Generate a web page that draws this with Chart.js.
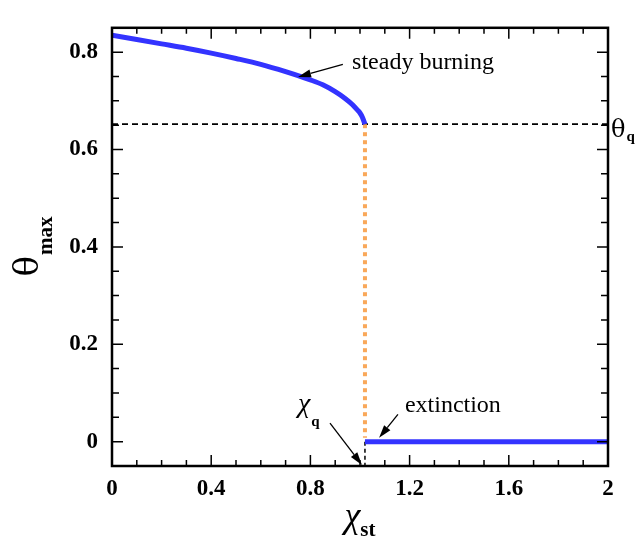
<!DOCTYPE html>
<html>
<head>
<meta charset="utf-8">
<script src="https://cdn.jsdelivr.net/npm/chart.js@4.4.1/dist/chart.umd.min.js"></script>
<style>
  body { margin: 0; background: #fff; }
  canvas { display: block; }
</style>
</head>
<body>
<canvas id="mycanvas" width="641" height="540"></canvas>
<script>
// values
var chiQ = 1.02;        // quenching strain
var thetaQ = 0.652;     // theta at quenching

var burnX = [0, 0.1, 0.2, 0.3, 0.4, 0.5, 0.6, 0.7, 0.8, 0.85, 0.9, 0.94, 0.97, 0.99, 1.0, 1.01, 1.02];
var burnY = [0.835, 0.826, 0.817, 0.808, 0.798, 0.787, 0.775, 0.760, 0.743, 0.733, 0.719, 0.705, 0.692, 0.681, 0.675, 0.666, 0.652];

var extX = [1.02, 2];
var extY = [0, 0];

var xTicks = [0, 0.4, 0.8, 1.2, 1.6, 2];
var yTicks = [0, 0.2, 0.4, 0.6, 0.8];
var xMinorStep = 0.1;
var yMinorStep = 0.05;

function pts(xs, ys) {
    var out = [];
    for (var i in xs) out.push({x: xs[i], y: ys[i]});
    return out;
}

var serif = "'Liberation Serif', 'Times New Roman', serif";
var greek = "'DejaVu Serif', serif";

// frame, inward ticks, annotations and axis titles
var decor = {
    id: 'decor',
    afterDraw: function (chart) {
        var c = chart.ctx, a = chart.chartArea;
        var xs = chart.scales.x, ys = chart.scales.y;
        c.save();
        c.strokeStyle = '#000';
        c.fillStyle = '#000';

        // ticks
        c.lineWidth = 1.5;
        c.beginPath();
        for (var v = 0; v <= 2.0001; v += xMinorStep) {
            var px = xs.getPixelForValue(v);
            var major = Math.abs(v / 0.4 - Math.round(v / 0.4)) < 1e-6;
            var len = major ? 11 : 6;
            c.moveTo(px, a.bottom); c.lineTo(px, a.bottom - len);
            c.moveTo(px, a.top); c.lineTo(px, a.top + len);
        }
        for (var w = 0; w <= 0.8001; w += yMinorStep) {
            var py = ys.getPixelForValue(w);
            var majorY = Math.abs(w / 0.2 - Math.round(w / 0.2)) < 1e-6;
            var lenY = majorY ? 11 : 7;
            c.moveTo(a.left, py); c.lineTo(a.left + lenY, py);
            c.moveTo(a.right, py); c.lineTo(a.right - lenY, py);
        }
        c.stroke();

        // frame
        c.lineWidth = 2.5;
        c.strokeRect(a.left, a.top, a.right - a.left, a.bottom - a.top);

        function X(v) { return xs.getPixelForValue(v); }
        function Y(v) { return ys.getPixelForValue(v); }

        function arrow(x1, y1, x2, y2) {
            var ang = Math.atan2(y2 - y1, x2 - x1);
            var hl = 13, hw = 4;
            c.lineWidth = 1.3;
            c.beginPath();
            c.moveTo(x1, y1);
            c.lineTo(x2 - hl * Math.cos(ang), y2 - hl * Math.sin(ang));
            c.stroke();
            c.beginPath();
            c.moveTo(x2, y2);
            c.lineTo(x2 - hl * Math.cos(ang) + hw * Math.sin(ang), y2 - hl * Math.sin(ang) - hw * Math.cos(ang));
            c.lineTo(x2 - hl * Math.cos(ang) - hw * Math.sin(ang), y2 - hl * Math.sin(ang) + hw * Math.cos(ang));
            c.closePath();
            c.fill();
        }

        c.textAlign = 'left';
        c.textBaseline = 'alphabetic';

        // steady burning
        c.font = '24px ' + serif;
        c.fillText('steady burning', X(0.968), Y(0.765));
        arrow(X(0.931), Y(0.775), X(0.75), Y(0.749));

        // extinction
        c.fillText('extinction', X(1.181), Y(0.060));
        arrow(X(1.153), Y(0.056), X(1.077), Y(0.008));

        // chi_q
        c.font = 'italic 28px ' + serif;
        c.fillText('\u03C7', X(0.75), Y(0.06));
        var cw = c.measureText('\u03C7').width;
        c.font = 'bold 15px ' + serif;
        c.fillText('q', X(0.75) + cw + 1, Y(0.06) + 14);
        arrow(X(0.879), Y(0.038), X(1.008), Y(-0.048));

        // theta_q on the right
        c.font = '24px ' + greek;
        var ty = Y(thetaQ) + 13;
        c.fillText('\u03B8', a.right + 3, ty);
        var tw = c.measureText('\u03B8').width;
        c.font = 'bold 15px ' + serif;
        c.fillText('q', a.right + 3 + tw + 1, ty + 4);

        // x title
        c.font = 'italic 36px ' + serif;
        var chiW = c.measureText('\u03C7').width;
        c.font = 'bold 21px ' + serif;
        var stW = c.measureText('st').width;
        var x0 = (a.left + a.right) / 2 - (chiW + stW) / 2;
        c.font = 'italic 36px ' + serif;
        c.fillText('\u03C7', x0, 527);
        c.font = 'bold 21px ' + serif;
        c.fillText('st', x0 + chiW, 536);

        // y title (rotated)
        c.font = '34px ' + greek;
        var thW = c.measureText('\u03B8').width;
        c.font = 'bold 21px ' + serif;
        var mxW = c.measureText('max').width;
        c.save();
        c.translate(38, (a.top + a.bottom) / 2 + (thW + mxW) / 2);
        c.rotate(-Math.PI / 2);
        c.font = '34px ' + greek;
        c.fillText('\u03B8', 0, 0);
        c.font = 'bold 21px ' + serif;
        c.fillText('max', thW + 1, 14);
        c.restore();

        c.restore();
    }
};

var chartdata = {
    datasets: [
        {
            label: 'steady burning',
            data: pts(burnX, burnY),
            borderColor: '#3333ff',
            borderWidth: 5,
            cubicInterpolationMode: 'monotone'
        },
        {
            label: 'extinction',
            data: pts(extX, extY),
            borderColor: '#3333ff',
            borderWidth: 5
        },
        {
            label: 'jump',
            data: pts([chiQ, chiQ], [thetaQ, 0.008]),
            borderColor: '#f9a85a',
            borderWidth: 4,
            borderDash: [4, 4],
            borderCapStyle: 'butt'
        },
        {
            label: 'theta_q',
            data: pts([0, 2], [thetaQ, thetaQ]),
            borderColor: '#000',
            borderWidth: 1.8,
            borderDash: [6, 4]
        },
        {
            label: 'chi_q',
            data: pts([chiQ, chiQ], [0, -0.05]),
            borderColor: '#000',
            borderWidth: 1.5,
            borderDash: [4, 3]
        }
    ]
};

var ctx = document.getElementById('mycanvas');

var lineGraph = new Chart(ctx, {
    type: 'scatter',
    data: chartdata,
    options: {
        responsive: false,
        animation: false,
        showLine: true,
        elements: { point: { radius: 0 }, line: { tension: 0 } },
        layout: { padding: { left: 0, right: 33, top: 14, bottom: 0 } },
        plugins: { legend: { display: false }, tooltip: { enabled: false } },
        scales: {
            x: {
                type: 'linear',
                min: 0,
                max: 2,
                grid: { display: false, drawTicks: false },
                border: { display: false },
                afterBuildTicks: function (s) { s.ticks = xTicks.map(function (v) { return {value: v}; }); },
                afterFit: function (s) { s.height = 74; },
                ticks: {
                    padding: 9,
                    color: '#000',
                    maxRotation: 0,
                    font: { family: serif, size: 23, weight: 'bold' },
                    callback: function (v) { return String(v); }
                }
            },
            y: {
                type: 'linear',
                min: -0.05,
                max: 0.85,
                grid: { display: false, drawTicks: false },
                border: { display: false },
                afterBuildTicks: function (s) { s.ticks = yTicks.map(function (v) { return {value: v}; }); },
                afterFit: function (s) { s.width = 112; },
                ticks: {
                    padding: 14,
                    color: '#000',
                    font: { family: serif, size: 23, weight: 'bold' },
                    callback: function (v) { return String(v); }
                }
            }
        }
    },
    plugins: [decor]
});
</script>
</body>
</html>
